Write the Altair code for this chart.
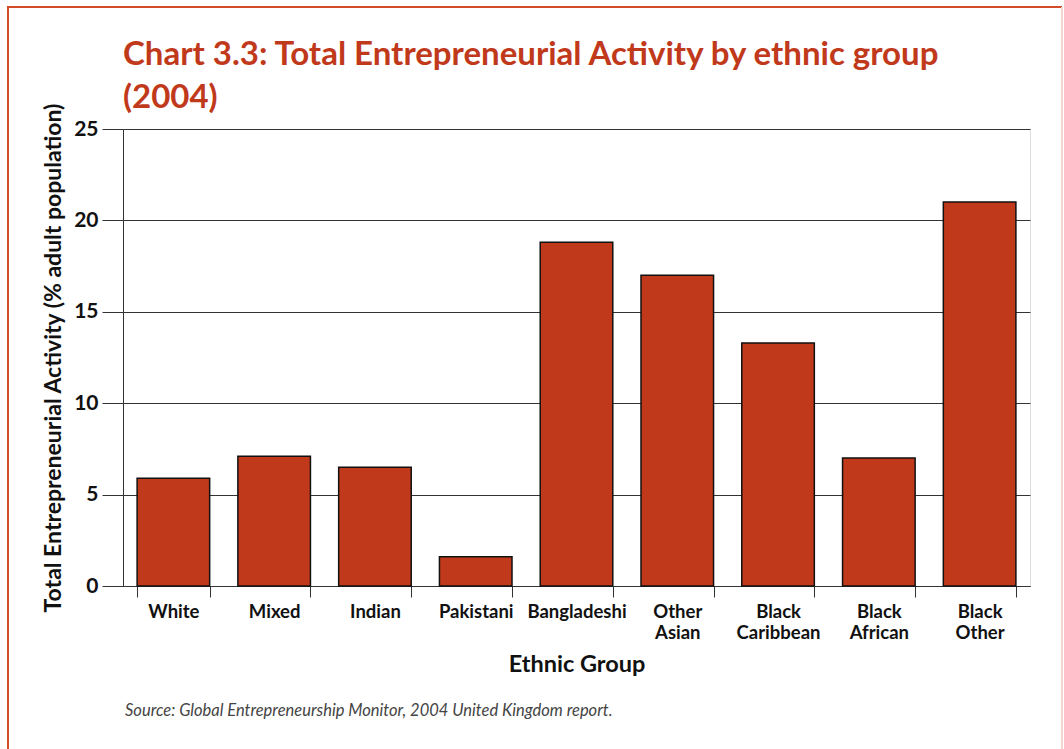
import altair as alt
import pandas as pd

groups = ["White", "Mixed", "Indian", "Pakistani", "Bangladeshi",
          "Other Asian", "Black Caribbean", "Black African", "Black Other"]
tea = [5.9, 7.1, 6.5, 1.6, 18.8, 17.0, 13.3, 7.0, 21.0]
y_ticks = [0, 5, 10, 15, 20, 25]

title_lines = ["Chart 3.3: Total Entrepreneurial Activity by ethnic group", "(2004)"]
source_text = "Source: Global Entrepreneurship Monitor, 2004 United Kingdom report."

df = pd.DataFrame({"group": groups, "tea": tea})

FONT = "Lato"
RED = "#C1391B"
DARK = "#333333"

bars = alt.Chart(df).mark_bar(color=RED, stroke="#111111", strokeWidth=1.5).encode(
    x=alt.X(
        "group:N", sort=groups,
        scale=alt.Scale(paddingInner=0.28, paddingOuter=0.14),
        axis=alt.Axis(
            title="Ethnic Group", labelAngle=0, tickBand="extent",
            labelExpr="split(datum.label, ' ')",
            labelFont=FONT, labelFontSize=18.5, labelFontWeight="bold",
            labelColor="#111111", labelLineHeight=21, labelPadding=5,
            tickSize=11, tickColor=DARK, domainColor=DARK,
            titleFont=FONT, titleFontSize=23.5, titleFontWeight="bold",
            titleColor="#111111", titlePadding=11, grid=False,
        ),
    ),
    y=alt.Y(
        "tea:Q",
        scale=alt.Scale(domain=[0, 25]),
        axis=alt.Axis(
            values=y_ticks, title="Total Entrepreneurial Activity (% adult population)",
            labelFont=FONT, labelFontSize=21, labelFontWeight="bold",
            labelColor="#111111", labelPadding=4,
            tickSize=21, tickColor=DARK, domainColor=DARK,
            grid=True, gridColor=DARK, gridOpacity=1, gridWidth=1,
            titleFont=FONT, titleFontSize=23, titleFontWeight="bold",
            titleColor="#111111", titlePadding=8,
        ),
    ),
)

frame = alt.Data(values=[{"k": 1}])
left_border = alt.Chart(frame).mark_rule(color="#D24A2A", strokeWidth=2).encode(
    x=alt.value(-115), y=alt.value(-122), y2=alt.value(625)
)
top_border = alt.Chart(frame).mark_rule(color="#D24A2A", strokeWidth=2).encode(
    x=alt.value(-116), x2=alt.value(939), y=alt.value(-122)
)
right_border = alt.Chart(frame).mark_rule(color="#F2D4D0", strokeWidth=2).encode(
    x=alt.value(939), y=alt.value(-122), y2=alt.value(625)
)

title = alt.Chart(frame).mark_text(
    align="left", baseline="alphabetic", font=FONT, fontWeight="bold",
    fontSize=33, color=RED, lineHeight=43
).encode(x=alt.value(0), y=alt.value(-64), text=alt.value(title_lines))

source = alt.Chart(alt.Data(values=[{"t": source_text}])).mark_text(
    align="left", baseline="alphabetic", font=FONT, fontStyle="italic",
    fontSize=16.5, color="#444444"
).encode(x=alt.value(2), y=alt.value(587), text="t:N")

chart = alt.layer(bars, left_border, top_border, right_border, title, source).properties(
    width=907, height=457,
    autosize=alt.AutoSizeParams(type="none"),
    padding={"left": 123, "top": 129, "right": 34, "bottom": 163},
).configure_view(stroke=DARK, strokeWidth=1.2).configure(background="white")

chart.save("out.html", embed_options={"renderer": "svg", "actions": False})
